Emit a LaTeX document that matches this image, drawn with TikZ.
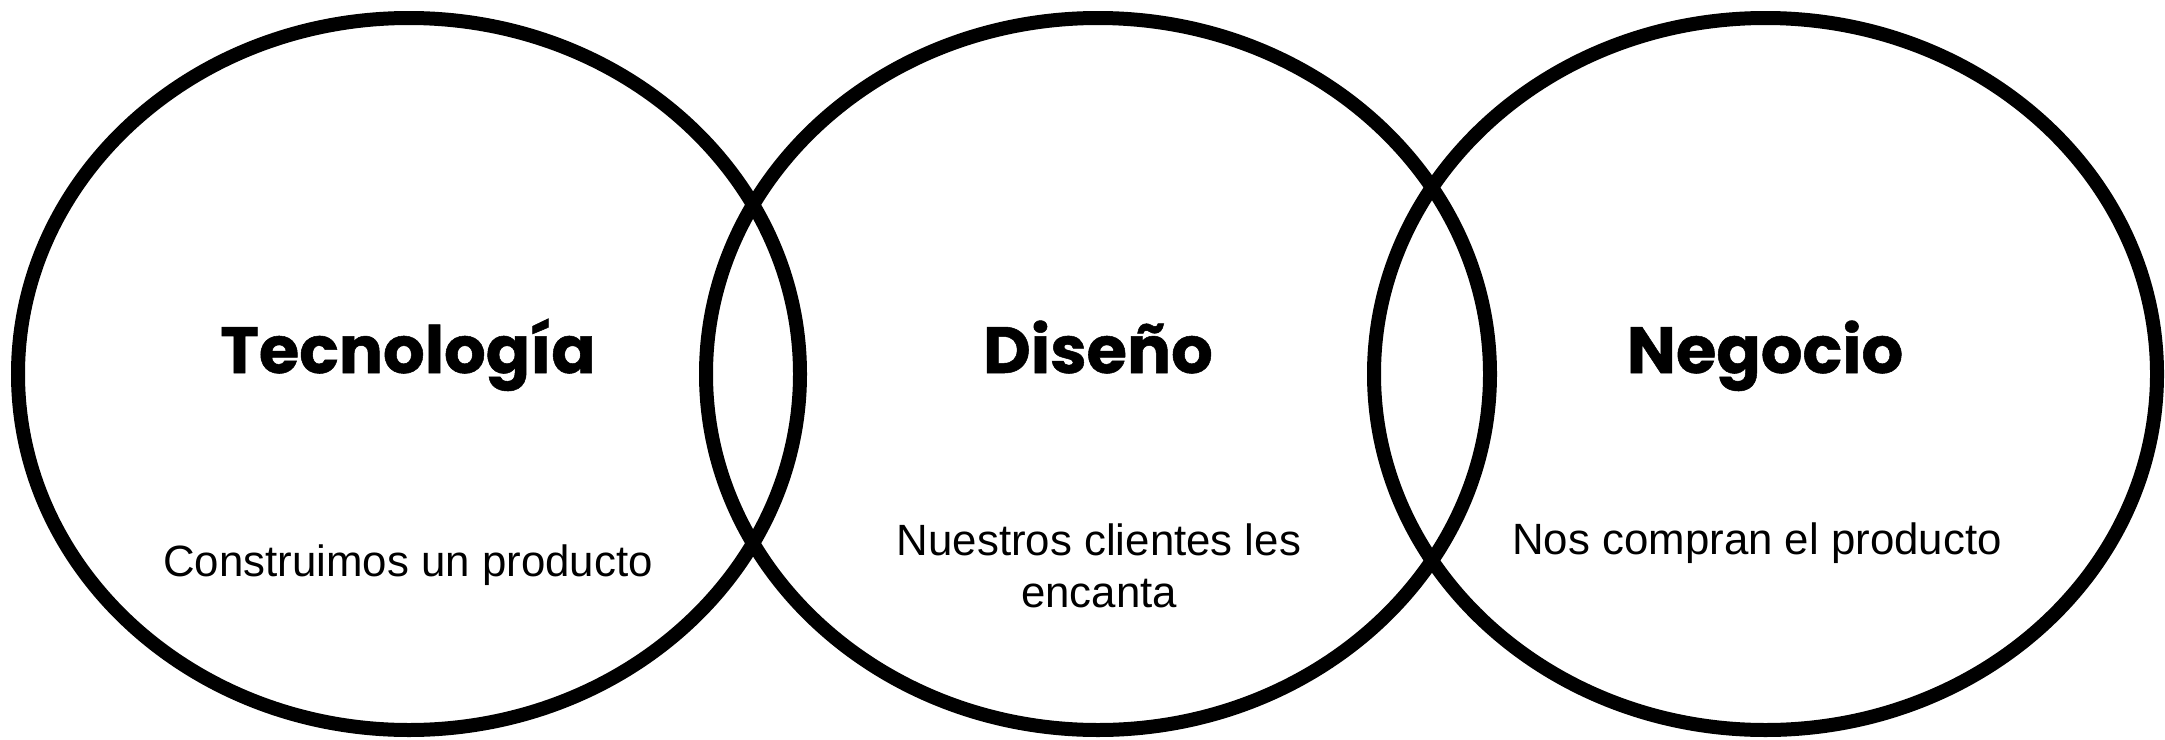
\documentclass[tikz,border=0pt]{standalone}
\usepackage{fontspec}
\setmainfont{Liberation Sans}
\newfontfamily\titlefont[BoldFeatures={FakeBold=0.8}]{Poppins}
\begin{document}
\begin{tikzpicture}[x=1pt,y=-1pt,
  ring/.style={draw=black,line width=14pt},
  title/.style={anchor=base,inner sep=0pt,font=\titlefont\bfseries\fontsize{65.5}{72}\selectfont},
  sub/.style={anchor=base,inner sep=0pt,align=center,font=\fontsize{43.8}{52}\selectfont}]
\useasboundingbox (0,0) rectangle (2165,739);
\draw[ring] (409,374) ellipse [x radius=391, y radius=356];
\draw[ring] (1098,374) ellipse [x radius=392, y radius=356];
\draw[ring] (1765.5,374) ellipse [x radius=391.5, y radius=356];
\node[title] (t1) at (408,373) {Tecnología};
\node[title] (t2) at (1098,373) {Diseño};
\node[title] (t3) at (1765,373) {Negocio};
\node[sub] (s1) at (408,576) {Construimos un producto};
\node[sub] (s2) at (1099,607) {Nuestros clientes les\\encanta};
\node[sub] (s3) at (1757,554) {Nos compran el producto};
\end{tikzpicture}
\end{document}
